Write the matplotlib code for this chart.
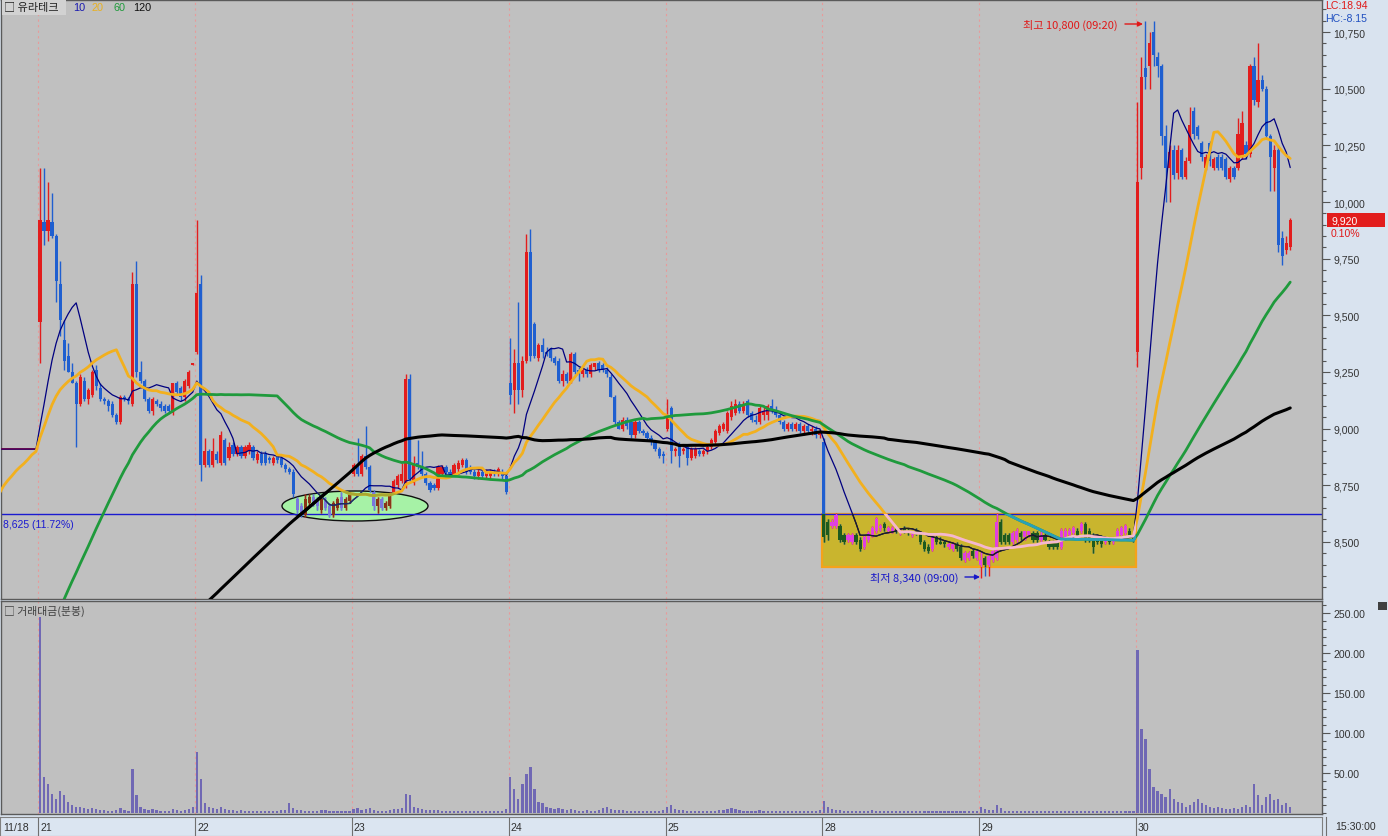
import numpy as np
import pandas as pd
import matplotlib
matplotlib.use('Agg')
import matplotlib.pyplot as plt
from matplotlib.patches import Rectangle, Ellipse

KR = ['Noto Sans CJK KR', 'DejaVu Sans']
NUM = ['Liberation Sans', 'DejaVu Sans']

# ---- data (10-minute candles, 39 per session) ----
day_labels = ['21', '22', '23', '24', '25', '28', '29', '30']

# closes before the visible window (only used to warm up the moving averages)
hist_close = [
    6920, 6910, 6930, 6940, 6920, 6900, 6910, 6920, 6930, 6910, 6900, 6890,
    6900, 6910, 6930, 6950, 6960, 6940, 6930, 6920, 6910, 6920, 6930, 6920, 6910, 6900,
    6890, 6900, 6910, 6920, 6910, 6900, 6890, 6880, 6890, 6900, 6910, 6900, 6890, 6880,
    6870, 6880, 6890, 6900, 6890, 6880, 6870, 6880, 6870, 6860, 6870,
    6880, 6900, 6890, 6870, 6860, 6850, 6860, 6870, 6860, 6850, 6840, 6850, 6860,
    6850, 6840, 6830, 6840, 6850, 6860, 6850, 6840, 6850, 6860, 6870, 6860, 6850,
    6840, 6850, 6860, 6870, 6860, 6850, 6860, 6870, 6860, 6850, 6860, 6870, 6860,
    7050, 7300, 7420, 7600, 7550, 7700, 7850, 7800, 7950, 8100, 8300,
    8450, 8520, 8480, 8560, 8600, 8540, 8500, 8620, 8700,
    8910, 8910, 8910, 8910, 8910, 8910, 8910, 8910, 8910,
]
# 11/18 last candles, locked at the upper limit
pre_close = [8910, 8910, 8910, 8910, 8910, 8910, 8910, 8910, 8910, 8910]

opens = [
    # 21
    9470, 9910, 9870, 9910, 9850, 9640, 9390, 9320, 9250, 9200, 9110, 9210, 9130, 9150, 9260, 9180, 9130, 9120, 9110, 9060,
    9030, 9140, 9130, 9110, 9640, 9250, 9210, 9130, 9080, 9120, 9110, 9100, 9100, 9070, 9200, 9180, 9140, 9190, 9280,
    # 22
    9340, 9640, 8840, 8900, 8840, 8890, 8850, 8950, 8870, 8930, 8890, 8920, 8880, 8900, 8920, 8860, 8890, 8890, 8870, 8850,
    8880, 8870, 8840, 8820, 8810, 8690, 8660, 8620, 8670, 8700, 8690, 8640, 8680, 8660, 8620, 8650, 8700, 8650, 8680,
    # 23
    8800, 8840, 8800, 8880, 8830, 8720, 8660, 8690, 8650, 8660, 8720, 8750, 8770, 8760, 9220, 8760, 8850, 8830, 8800, 8760,
    8750, 8740, 8800, 8830, 8810, 8800, 8820, 8840, 8860, 8830, 8810, 8790, 8810, 8790, 8790, 8810, 8800, 8810, 8790,
    # 24
    9200, 9170, 9290, 9170, 9300, 9780, 9460, 9310, 9370, 9340, 9350, 9310, 9300, 9210, 9240, 9210, 9330, 9260, 9240, 9260,
    9240, 9270, 9290, 9280, 9260, 9230, 9140, 9030, 9000, 9040, 9030, 8970, 9030, 8990, 8980, 8960, 8940, 8910, 8890,
    # 25
    9000, 9090, 8900, 8930, 8900, 8920, 8870, 8880, 8900, 8890, 8900, 8920, 8940, 8980, 9000, 8990, 9050, 9070, 9110, 9080,
    9120, 9070, 9040, 9030, 9060, 9060, 9100, 9080, 9060, 9030, 9000, 9020, 9000, 9020, 8990, 9010, 8990, 9000, 8970,
    # 28
    8940, 8590, 8570, 8570, 8570, 8530, 8510, 8500, 8530, 8510, 8480, 8510, 8530, 8550, 8560, 8580, 8550, 8550, 8560, 8540,
    8560, 8550, 8530, 8550, 8540, 8500, 8480, 8470, 8520, 8500, 8500, 8480, 8470, 8490, 8480, 8420, 8430, 8460, 8430,
    # 29
    8400, 8430, 8400, 8420, 8430, 8590, 8530, 8530, 8500, 8510, 8540, 8520, 8530, 8540, 8540, 8510, 8530, 8500, 8500, 8500,
    8480, 8520, 8530, 8540, 8550, 8550, 8580, 8550, 8530, 8520, 8520, 8500, 8510, 8500, 8520, 8530, 8540, 8550, 8520,
    # 30
    9340, 10150, 10590, 10600, 10750, 10640, 10600, 10290, 10150, 10230, 10130, 10230, 10110, 10180, 10400, 10330, 10260,
    10150, 10260, 10150, 10200, 10200, 10190, 10100, 10150, 10150, 10200, 10250, 10210, 10600, 10440, 10540, 10500,
    10290, 10150, 10230, 9840, 9790, 9800,
]
highs = [
    10150, 10150, 10090, 10040, 9860, 9740, 9480, 9380, 9290, 9210, 9240, 9230, 9180, 9260, 9280, 9200, 9140, 9130, 9120, 9070,
    9150, 9150, 9140, 9690, 9740, 9300, 9220, 9140, 9140, 9130, 9120, 9110, 9110, 9200, 9210, 9190, 9220, 9260, 9290,
    9920, 9680, 8960, 8910, 8960, 8900, 8990, 8960, 8940, 8940, 8930, 8930, 8930, 8940, 8930, 8900, 8900, 8900, 8880, 8880,
    8890, 8880, 8850, 8830, 8820, 8700, 8670, 8710, 8710, 8710, 8700, 8700, 8700, 8670, 8680, 8700, 8720, 8700, 8720,
    8850, 8960, 8890, 9010, 8840, 8730, 8700, 8700, 8680, 8720, 8780, 8800, 8850, 9240, 9240, 8880, 8950, 8900, 8810, 8770,
    8760, 8840, 8840, 8840, 8820, 8850, 8860, 8870, 8870, 8840, 8820, 8820, 8820, 8820, 8820, 8820, 8830, 8820, 8800,
    9400, 9350, 9560, 9320, 9860, 9880, 9470, 9380, 9400, 9360, 9360, 9320, 9310, 9260, 9250, 9340, 9340, 9270, 9270, 9270,
    9290, 9290, 9300, 9290, 9270, 9240, 9150, 9040, 9050, 9050, 9040, 9040, 9040, 9000, 8990, 8970, 8950, 8920, 8900,
    9130, 9100, 8920, 8940, 8920, 8930, 8920, 8920, 8910, 8910, 8930, 8960, 9000, 9020, 9030, 9080, 9120, 9130, 9120, 9120,
    9130, 9080, 9060, 9100, 9100, 9110, 9130, 9100, 9080, 9040, 9030, 9030, 9030, 9030, 9020, 9020, 9010, 9010, 9000,
    8960, 8600, 8600, 8630, 8580, 8540, 8540, 8540, 8540, 8520, 8530, 8550, 8570, 8610, 8580, 8590, 8570, 8570, 8570, 8560,
    8570, 8560, 8550, 8560, 8550, 8510, 8490, 8540, 8530, 8520, 8510, 8500, 8500, 8500, 8490, 8460, 8460, 8470, 8470,
    8460, 8440, 8450, 8470, 8630, 8600, 8540, 8540, 8550, 8560, 8550, 8550, 8550, 8550, 8550, 8550, 8540, 8510, 8510, 8510,
    8560, 8560, 8560, 8570, 8560, 8590, 8590, 8560, 8540, 8530, 8530, 8520, 8520, 8520, 8560, 8570, 8580, 8560, 8530,
    10440, 10640, 10800, 10750, 10800, 10660, 10610, 10340, 10250, 10250, 10250, 10240, 10200, 10420, 10420, 10340, 10270,
    10210, 10270, 10200, 10210, 10210, 10200, 10160, 10160, 10370, 10400, 10270, 10610, 10640, 10700, 10560, 10510,
    10300, 10250, 10250, 9870, 9850, 9930,
]
lows = [
    9290, 9810, 9830, 9840, 9560, 9410, 9260, 9250, 9200, 8920, 9100, 9120, 9110, 9140, 9170, 9120, 9110, 9080, 9050, 9020,
    9020, 9120, 9110, 9100, 9230, 9200, 9120, 9070, 9060, 9100, 9080, 9070, 9070, 9060, 9150, 9120, 9120, 9180, 9280,
    9330, 8770, 8830, 8830, 8830, 8850, 8840, 8840, 8860, 8880, 8880, 8870, 8870, 8890, 8860, 8850, 8840, 8840, 8850, 8840,
    8850, 8830, 8810, 8800, 8700, 8630, 8610, 8610, 8660, 8660, 8640, 8630, 8640, 8610, 8610, 8640, 8640, 8640, 8670,
    8790, 8790, 8790, 8820, 8720, 8640, 8630, 8640, 8640, 8650, 8710, 8740, 8760, 8740, 8760, 8750, 8820, 8790, 8750, 8720,
    8730, 8730, 8790, 8800, 8790, 8790, 8810, 8830, 8800, 8800, 8780, 8780, 8780, 8780, 8780, 8790, 8790, 8780, 8710,
    9110, 9070, 9110, 9140, 9290, 9300, 9310, 9300, 9310, 9320, 9300, 9280, 9200, 9190, 9200, 9200, 9240, 9210, 9230, 9230,
    9230, 9260, 9250, 9250, 9230, 9140, 9020, 9000, 8990, 9000, 8960, 8960, 8980, 8970, 8950, 8930, 8900, 8870, 8850,
    8990, 8850, 8880, 8830, 8890, 8840, 8860, 8870, 8880, 8880, 8890, 8910, 8930, 8970, 8990, 8980, 9040, 9060, 9070, 9070,
    9050, 9030, 9020, 9020, 9040, 9040, 9070, 9050, 9020, 8990, 8990, 8990, 8990, 8980, 8970, 8980, 8970, 8960, 8960,
    8500, 8510, 8560, 8560, 8500, 8490, 8500, 8490, 8490, 8460, 8470, 8500, 8520, 8540, 8550, 8550, 8540, 8540, 8540, 8530,
    8540, 8530, 8520, 8530, 8490, 8460, 8450, 8460, 8490, 8490, 8480, 8470, 8460, 8460, 8420, 8410, 8420, 8430, 8420,
    8340, 8350, 8350, 8410, 8420, 8490, 8490, 8490, 8490, 8500, 8510, 8510, 8520, 8500, 8500, 8500, 8500, 8470, 8470, 8470,
    8470, 8510, 8520, 8530, 8510, 8540, 8500, 8500, 8450, 8490, 8480, 8490, 8490, 8490, 8510, 8520, 8530, 8520, 8500,
    9270, 10100, 10500, 10500, 10600, 10550, 10250, 10000, 10000, 10100, 10100, 10100, 10100, 10170, 10280, 10280, 10180,
    10140, 10160, 10140, 10140, 10140, 10100, 10090, 10100, 10140, 10190, 10190, 10200, 10430, 10420, 10490, 10280,
    10050, 10050, 9780, 9720, 9770, 9790,
]
closes = [
    9920, 9870, 9920, 9850, 9650, 9480, 9300, 9250, 9200, 9110, 9230, 9130, 9170, 9250, 9190, 9130, 9120, 9100, 9060, 9030,
    9140, 9130, 9120, 9640, 9250, 9210, 9130, 9080, 9130, 9110, 9090, 9080, 9080, 9200, 9160, 9140, 9210, 9250, 9290,
    9600, 8840, 8900, 8840, 8900, 8860, 8970, 8850, 8920, 8890, 8920, 8880, 8920, 8930, 8870, 8890, 8850, 8850, 8860, 8870,
    8860, 8840, 8820, 8810, 8710, 8640, 8620, 8690, 8700, 8670, 8660, 8690, 8650, 8620, 8670, 8690, 8650, 8690, 8710,
    8840, 8800, 8880, 8830, 8730, 8660, 8690, 8650, 8670, 8710, 8770, 8790, 8800, 9220, 8780, 8840, 8830, 8800, 8760, 8730,
    8740, 8830, 8830, 8810, 8800, 8840, 8850, 8860, 8810, 8810, 8790, 8810, 8790, 8810, 8810, 8800, 8820, 8790, 8720,
    9150, 9290, 9170, 9300, 9780, 9320, 9320, 9370, 9340, 9330, 9310, 9290, 9210, 9240, 9210, 9330, 9250, 9240, 9260, 9240,
    9280, 9290, 9260, 9260, 9240, 9140, 9030, 9000, 9040, 9010, 8970, 9030, 8990, 8980, 8960, 8940, 8910, 8880, 8880,
    9060, 8900, 8910, 8880, 8910, 8870, 8910, 8910, 8890, 8900, 8920, 8950, 8990, 9010, 9020, 9070, 9100, 9110, 9080, 9110,
    9060, 9040, 9030, 9090, 9080, 9100, 9080, 9060, 9030, 9000, 9020, 9000, 9020, 8990, 9010, 8990, 9000, 8970, 8990,
    8520, 8530, 8590, 8620, 8510, 8500, 8530, 8530, 8500, 8470, 8520, 8540, 8560, 8600, 8570, 8560, 8560, 8560, 8550, 8550,
    8550, 8540, 8540, 8540, 8500, 8470, 8460, 8530, 8500, 8490, 8490, 8490, 8490, 8470, 8430, 8450, 8450, 8440, 8460,
    8420, 8400, 8440, 8460, 8590, 8500, 8500, 8500, 8540, 8550, 8520, 8550, 8550, 8510, 8510, 8530, 8510, 8480, 8480, 8480,
    8550, 8550, 8550, 8560, 8520, 8580, 8510, 8510, 8480, 8500, 8490, 8510, 8500, 8510, 8550, 8560, 8570, 8530, 8510,
    10090, 10550, 10550, 10700, 10650, 10600, 10290, 10150, 10220, 10120, 10230, 10110, 10180, 10340, 10300, 10290,
    10200, 10200, 10180, 10190, 10150, 10150, 10110, 10150, 10110, 10300, 10350, 10210, 10600, 10450, 10540, 10500,
    10290, 10200, 10230, 9810, 9760, 9820, 9920,
]
# trading value (거래대금), per candle
volumes = [
    245, 45, 36, 24, 18, 28, 22, 14, 10, 8, 7, 6, 5, 6, 5, 4, 4, 3, 3, 4, 6, 4, 3, 55, 22, 8, 5, 4, 5, 4, 3, 3, 3, 5, 4, 3, 4, 5, 8,
    76, 42, 12, 8, 6, 5, 7, 5, 4, 4, 3, 4, 3, 3, 3, 3, 3, 2, 2, 3, 3, 4, 4, 12, 6, 4, 4, 3, 3, 3, 3, 4, 4, 3, 3, 3, 3, 3, 3,
    5, 6, 4, 5, 6, 4, 3, 3, 3, 4, 5, 5, 6, 24, 22, 8, 6, 5, 4, 4, 4, 4, 3, 3, 3, 3, 3, 3, 2, 2, 2, 2, 2, 2, 2, 2, 2, 3, 5,
    45, 30, 18, 36, 49, 57, 30, 14, 12, 8, 6, 5, 6, 5, 4, 5, 4, 3, 3, 4, 3, 3, 4, 6, 8, 5, 4, 4, 4, 3, 3, 3, 3, 3, 3, 3, 3, 3, 4,
    8, 10, 5, 4, 4, 3, 3, 3, 2, 2, 3, 3, 3, 4, 4, 5, 6, 5, 4, 3, 3, 3, 3, 4, 3, 3, 3, 2, 2, 3, 3, 2, 2, 2, 3, 2, 2, 3, 4,
    15, 8, 5, 4, 4, 3, 3, 3, 3, 3, 3, 3, 4, 3, 2, 2, 2, 2, 2, 2, 2, 2, 2, 2, 2, 3, 3, 3, 2, 2, 2, 3, 2, 2, 2, 3, 3, 2, 3,
    8, 5, 4, 4, 10, 6, 3, 3, 3, 3, 2, 2, 2, 2, 2, 2, 2, 2, 2, 2, 3, 3, 2, 2, 2, 2, 2, 2, 3, 2, 2, 2, 2, 2, 2, 2, 2, 2, 3,
    204, 105, 92, 55, 32, 28, 24, 20, 30, 18, 14, 12, 8, 10, 14, 18, 12, 10, 8, 6, 8, 6, 5, 5, 6, 5, 8, 10, 8, 36, 22, 10,
    20, 24, 16, 18, 10, 12, 8,
]
ma_periods = [10, 20, 60, 120]
ma_colors = ['#000080', '#f2b01e', '#1f9a3c', '#000000']
ma_widths = [0.9, 2.0, 2.0, 2.2]
box_colors = ['#202020', '#f2b8d0', '#2aa0b8', '#000000']
ell_colors = ['#203060', '#a8a830', '#1f9a3c', '#000000']

# ---- geometry (pixels of a 1388x837 image) ----
W, H = 1388, 837
X0, DX = 40.0, 4.02          # first candle x, spacing


def i_of(x):
    return (x - X0) / DX


def p_of(y):
    return 10895.6 - 4.4118 * y


o = np.array(opens, float)
h = np.array(highs, float)
l = np.array(lows, float)
c = np.array(closes, float)
n = len(c)
idx = np.arange(n)
pre_idx = np.arange(-len(pre_close), 0)
day_starts = np.arange(len(day_labels)) * 39

all_close = pd.Series(hist_close + pre_close + closes, dtype=float)
ma_x = np.arange(-len(pre_close) - 1, n)
mas = [all_close.rolling(p).mean().to_numpy()[-len(ma_x):] for p in ma_periods]

fig = plt.figure(figsize=(W / 100, H / 100), dpi=100, facecolor='#d9e3ef')
ax = fig.add_axes([1 / W, 1 - 600 / H, 1321 / W, 599 / H], facecolor='#c0c0c0')
axv = fig.add_axes([1 / W, 1 - 815 / H, 1321 / W, 213 / H], facecolor='#c0c0c0')
axd = fig.add_axes([0, 0, 1322 / W, 19 / H], facecolor='#dbe5f1')

ax.set_xlim(i_of(1), i_of(1322))
ax.set_ylim(p_of(600), p_of(1))
axv.set_xlim(i_of(1), i_of(1322))
axv.set_ylim(-1.25, 265)
axd.set_xlim(i_of(0), i_of(1322))
axd.set_ylim(0, 1)

# day separators
for a in (ax, axv):
    for d in day_starts:
        a.axvline(d - 0.4, color='#e89a9a', lw=0.8, ls=(0, (2, 3)), zorder=1)

# highlight box and ellipse
box_xy = (i_of(822), p_of(568))
box_w, box_h = i_of(1136) - i_of(822), p_of(515) - p_of(568)
ax.add_patch(Rectangle(box_xy, box_w, box_h, facecolor='#c9b52e', edgecolor='#f5a21a', lw=1.6, zorder=1.5))
ell_c = (i_of(355), p_of(507))
ell_w, ell_h = i_of(428) - i_of(282), p_of(492) - p_of(522)
ax.add_patch(Ellipse(ell_c, ell_w, ell_h, facecolor='#a6f2a6', edgecolor='#101010', lw=1.0, zorder=1.5))
clip_box = Rectangle(box_xy, box_w, box_h, transform=ax.transData)
clip_ell = Ellipse(ell_c, ell_w, ell_h, transform=ax.transData)

ax.axhline(8625, color='#1a1ad0', lw=1.0, zorder=2)

# candles
prev = np.concatenate([[8910], c[:-1]])
up = (c > o) | ((c == o) & (c >= prev))
body_lo = np.minimum(o, c)
body_h = np.maximum(np.abs(c - o), 5)


def candles(up_col, dn_col, clip=None, z=3):
    cols = np.where(up, up_col, dn_col)
    wl = ax.vlines(idx, l, h, colors=cols, lw=1.0, zorder=z)
    bars = ax.bar(idx, body_h, bottom=body_lo, width=0.78, color=cols, lw=0, zorder=z + 0.1)
    if clip is not None:
        wl.set_clip_path(clip)
        for b in bars:
            b.set_clip_path(clip)


candles('#e21d1d', '#1f5fd0')
candles('#e040e0', '#1e5a1e', clip_box, z=3.3)
candles('#8a3418', '#7a78dc', clip_ell, z=3.3)
ax.bar(pre_idx, 5, bottom=np.array(pre_close) - 2.5, width=0.9, color='#e21d1d', lw=0, zorder=3)

for k in range(4):
    ax.plot(ma_x, mas[k], color=ma_colors[k], lw=ma_widths[k], zorder=5, solid_capstyle='round')
    ln, = ax.plot(ma_x, mas[k], color=box_colors[k], lw=ma_widths[k], zorder=5.2)
    ln.set_clip_path(clip_box)
    ln2, = ax.plot(ma_x, mas[k], color=ell_colors[k], lw=ma_widths[k], zorder=5.1)
    ln2.set_clip_path(clip_ell)

# annotations
ax.annotate('최고 10,800 (09:20)', xy=(i_of(1143), p_of(25)), xytext=(i_of(1118), p_of(25)),
            color='#e01818', fontsize=8, family=KR, ha='right', va='center',
            arrowprops=dict(arrowstyle='-|>', color='#e01818', lw=1.0, mutation_scale=7, shrinkA=3, shrinkB=0))
ax.annotate('최저 8,340 (09:00)', xy=(i_of(980), p_of(578)), xytext=(i_of(958), p_of(578)),
            color='#1818c8', fontsize=8, family=KR, ha='right', va='center',
            arrowprops=dict(arrowstyle='-|>', color='#1818c8', lw=1.0, mutation_scale=7, shrinkA=3, shrinkB=0))
ax.text(i_of(3), p_of(525), '8,625 (11.72%)', color='#1a1ad0', fontsize=7.5, family=NUM, va='center')

# price axis
ax.yaxis.tick_right()
ax.set_yticks(np.arange(8500, 10751, 250))
ax.set_yticks(np.arange(8300, 10851, 50), minor=True)
ax.set_yticklabels([f'{v:,}' for v in range(8500, 10751, 250)])
ax.set_xticks([])
ax.tick_params(axis='y', which='major', length=6, width=0.8, color='#555555', pad=2,
               labelsize=7.6, labelcolor='#333333')
ax.tick_params(axis='y', which='minor', length=3, width=0.8, color='#555555')
for lab in ax.get_yticklabels():
    lab.set_family(NUM)
for s in ax.spines.values():
    s.set_color('#5a5a5a')
    s.set_linewidth(1.0)

# volume
axv.bar(idx, volumes, width=0.55, color='#7068b4', lw=0, zorder=3)
axv.yaxis.tick_right()
axv.set_yticks(np.arange(50, 251, 50))
axv.set_yticks(np.arange(0, 261, 10), minor=True)
axv.set_yticklabels([f'{v:.2f}' for v in range(50, 251, 50)])
axv.set_xticks([])
axv.tick_params(axis='y', which='major', length=6, width=0.8, color='#555555', pad=2,
                labelsize=7.6, labelcolor='#333333')
axv.tick_params(axis='y', which='minor', length=3, width=0.8, color='#555555')
for lab in axv.get_yticklabels():
    lab.set_family(NUM)
for s in axv.spines.values():
    s.set_color('#5a5a5a')
    s.set_linewidth(1.0)
axv.text(0.002, 0.955, '□ 거래대금(분봉)', transform=axv.transAxes, fontsize=7.8,
         family=KR, color='#404040', va='center')

# date strip
axd.set_xticks([])
axd.set_yticks([])
for s in axd.spines.values():
    s.set_color('#808080')
axd.vlines(day_starts - 0.4, 0, 1, color='#707070', lw=0.8)
axd.text(i_of(3), 0.45, '11/18', fontsize=7.6, family=NUM, color='#303030', va='center')
for d, lab in zip(day_starts, day_labels):
    axd.text(d + 0.1, 0.45, lab, fontsize=7.6, family=NUM, color='#303030', va='center')


def fx(x):
    return x / W


def fy(y):
    return 1 - y / H


fig.add_artist(plt.Line2D([fx(1326), fx(1326)], [fy(837), fy(818)], color='#707070', lw=0.8))
fig.text(fx(1335), fy(827), '15:30:00', fontsize=7.6, family=NUM, color='#303030', va='center')

# top legend
fig.add_artist(Rectangle((fx(2), fy(16)), fx(64), 15 / H, facecolor='#d2d2d2', edgecolor='none'))
fig.text(fx(4), fy(8), '□ 유라테크', fontsize=8, family=KR, color='#202020', va='center')
for x, t, col in [(73, '10', '#1a1ab0'), (92, '20', '#e8b020'), (113, '60', '#1f9a3c'), (133, '120', '#101010')]:
    fig.text(fx(x), fy(8), t, fontsize=7.8, family=NUM, color=col, va='center')

# right side texts
fig.text(fx(1325), fy(6), 'LC:18.94', fontsize=7.6, family=NUM, color='#e01818', va='center')
fig.text(fx(1325), fy(19), 'HC:-8.15', fontsize=7.6, family=NUM, color='#2050c0', va='center')
fig.add_artist(Rectangle((fx(1327), fy(228)), fx(58), 14 / H, facecolor='#e21d1d', edgecolor='none'))
fig.text(fx(1331), fy(221), f'{closes[-1]:,}', fontsize=7.6, family=NUM, color='white', va='center')
fig.text(fx(1331), fy(234), '0.10%', fontsize=7.6, family=NUM, color='#e01818', va='center')
fig.add_artist(Rectangle((fx(1378), fy(611)), fx(9), 8 / H, facecolor='#404040', edgecolor='none'))

fig.savefig('out.png', dpi=100, facecolor=fig.get_facecolor())
